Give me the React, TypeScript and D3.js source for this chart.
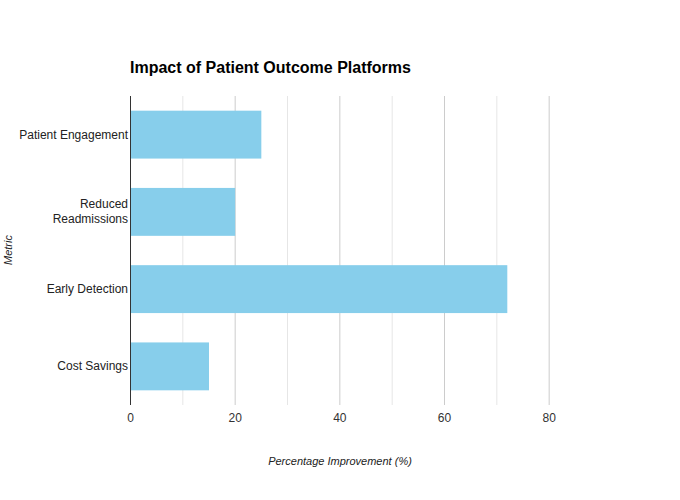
import React from "react";
import * as d3 from "d3";

const categories: string[][] = [
  ["Patient Engagement"],
  ["Reduced", "Readmissions"],
  ["Early Detection"],
  ["Cost Savings"],
];
const values: number[] = [25, 20, 72, 15];
const majorTicks: number[] = [0, 20, 40, 60, 80];
const minorTicks: number[] = [10, 30, 50, 70];

const W = 680;
const H = 500;
const M = { left: 130.5, right: 78.5, top: 96, bottom: 95 };
const FONT = "'Liberation Sans', Arial, Helvetica, sans-serif";

export default function App() {
  const x = d3.scaleLinear().domain([0, 90]).range([M.left, W - M.right]);
  const keys = categories.map((c) => c.join(" "));
  const y = d3
    .scaleBand<string>()
    .domain(keys)
    .range([M.top, H - M.bottom])
    .paddingInner(0.38)
    .paddingOuter(0.19);
  const y0 = M.top;
  const y1 = H - M.bottom;

  return (
    <svg
      width={W}
      height={H}
      style={{ position: "absolute", left: 0, top: 0, display: "block", fontFamily: FONT, overflow: "visible" }}
    >
      <rect width={W} height={H} fill="#fff" />
      <text x={130} y={73} fontSize={16} fontWeight="bold" fill="#000">
        Impact of Patient Outcome Platforms
      </text>
      {minorTicks.map((t) => (
        <line key={"m" + t} x1={x(t)} x2={x(t)} y1={y0} y2={y1} stroke="#e6e6e6" strokeWidth={1} />
      ))}
      {majorTicks.filter((t) => t > 0).map((t) => (
        <line key={"M" + t} x1={x(t)} x2={x(t)} y1={y0} y2={y1} stroke="#cccccc" strokeWidth={1} />
      ))}
      {values.map((v, i) => (
        <rect
          key={keys[i]}
          x={x(0)}
          y={y(keys[i])!}
          width={x(v) - x(0)}
          height={y.bandwidth()}
          fill="#87CEEB"
        />
      ))}
      <line x1={x(0)} x2={x(0)} y1={y0} y2={y1} stroke="#333" strokeWidth={1} />
      {majorTicks.map((t) => (
        <text key={"t" + t} x={x(t)} y={422} fontSize={12} fill="#333" textAnchor="middle">
          {t}
        </text>
      ))}
      {categories.map((lines, i) => {
        const cy = y(keys[i])! + y.bandwidth() / 2;
        const lh = 15;
        const start = cy - ((lines.length - 1) * lh) / 2;
        return (
          <text key={"c" + i} x={128} fontSize={12} fill="#222" textAnchor="end">
            {lines.map((l, j) => (
              <tspan key={j} x={128} y={start + j * lh + 4}>
                {l}
              </tspan>
            ))}
          </text>
        );
      })}
      <text x={340} y={465} fontSize={11} fontStyle="italic" fill="#222" textAnchor="middle">
        Percentage Improvement (%)
      </text>
      <text
        x={0}
        y={0}
        transform="translate(12,250) rotate(-90)"
        fontSize={11}
        fontStyle="italic"
        fill="#222"
        textAnchor="middle"
      >
        Metric
      </text>
    </svg>
  );
}
